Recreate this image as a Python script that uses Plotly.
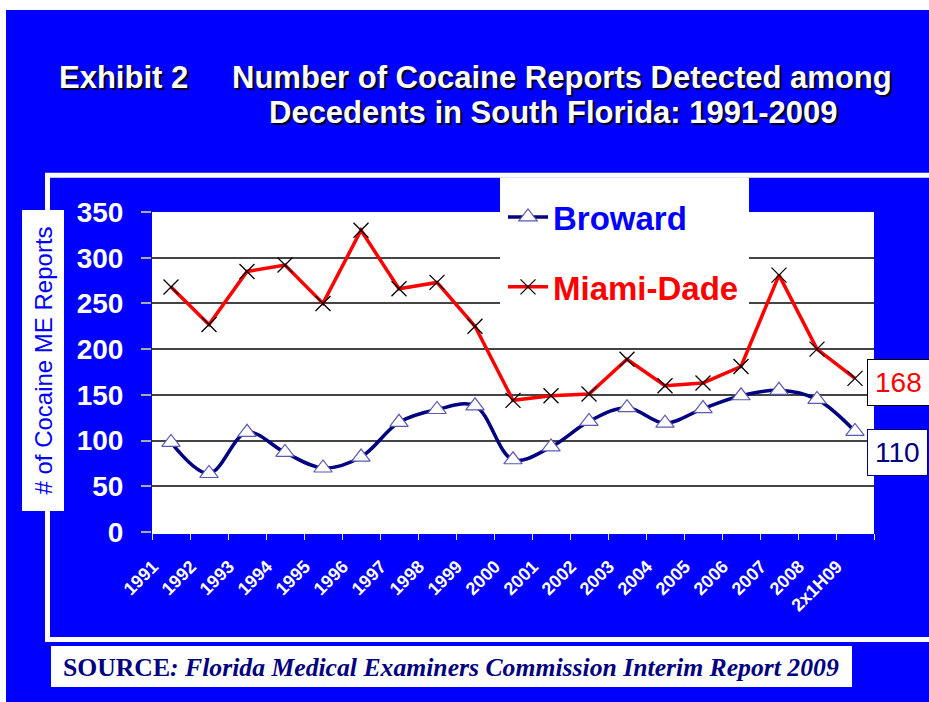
import plotly.graph_objects as go

W, H = 929, 702

years = ["1991", "1992", "1993", "1994", "1995", "1996", "1997", "1998", "1999", "2000",
         "2001", "2002", "2003", "2004", "2005", "2006", "2007", "2008", "2x1H09"]
broward = [98, 64, 109, 87, 70, 82, 120, 134, 138, 79, 93, 121, 136, 119, 135, 149, 155, 145, 110]
miami_dade = [268, 227, 285, 292, 250, 330, 266, 273, 225, 144, 149, 151, 189, 160, 163, 181, 281, 200, 168]
y_ticks = [0, 50, 100, 150, 200, 250, 300, 350]

BLUE = "#0000FF"
NAVY = "#000080"
SANS = "Liberation Sans, Arial, sans-serif"
SERIF = "Liberation Serif, Times New Roman, serif"


def px(x):
    return x / W


def py(y):
    return 1 - y / H


fig = go.Figure()

fig.add_trace(go.Scatter(
    x=years, y=broward, name="<span style='color:#0000FF'>Broward</span>",
    mode="lines+markers", legendgroup="b",
    line=dict(color=NAVY, width=3.5, shape="spline", smoothing=1.0),
    marker=dict(symbol="triangle-up", size=16, color="white",
                line=dict(color="#5a5ab4", width=1.2)),
))
fig.add_trace(go.Scatter(
    x=years, y=miami_dade, name="<span style='color:#FF0000'>Miami-Dade</span>",
    mode="lines+markers", legendgroup="m",
    line=dict(color="#FF0000", width=3.5),
    marker=dict(symbol="x-thin", size=15, color="black",
                line=dict(color="black", width=1.3)),
))

shapes = [
    # page blue background
    dict(type="rect", xref="paper", yref="paper", x0=px(6), x1=px(940), y0=py(10), y1=py(710),
         fillcolor=BLUE, line=dict(width=0), layer="below"),
    # white plot area
    dict(type="rect", xref="x domain", yref="y domain", x0=0, x1=1, y0=0, y1=1,
         fillcolor="white", line=dict(width=0), layer="below"),
    # white frame
    dict(type="rect", xref="paper", yref="paper", x0=px(47.5), x1=px(960), y0=py(175.3), y1=py(639.5),
         fillcolor="rgba(0,0,0,0)", line=dict(color="white", width=5), layer="below"),
    # legend white box
    dict(type="rect", xref="paper", yref="paper", x0=px(500), x1=px(749), y0=py(177.5), y1=py(338),
         fillcolor="white", line=dict(width=0), layer="above"),
    # source box
    dict(type="rect", xref="paper", yref="paper", x0=px(51), x1=px(852), y0=py(646), y1=py(687),
         fillcolor="white", line=dict(width=0), layer="above"),
]

shadow = "2px 2px 1px #000020"
annotations = [
    dict(text="Exhibit 2", x=px(57), y=py(77), xanchor="left", yanchor="middle",
         font=dict(family=SANS, size=31, color="white", weight="bold", shadow=shadow)),
    dict(text="Number of Cocaine Reports Detected among", x=px(230), y=py(77), xanchor="left",
         yanchor="middle", font=dict(family=SANS, size=31, color="white", weight="bold", shadow=shadow)),
    dict(text="Decedents in South Florida: 1991-2009", x=px(267), y=py(113), xanchor="left",
         yanchor="middle", font=dict(family=SANS, size=31, color="white", weight="bold", shadow=shadow)),
    # y-axis title box
    dict(text="# of Cocaine ME Reports", x=px(42.5), y=py(361), xanchor="center", yanchor="middle",
         textangle=-90, width=300, height=41, bgcolor="white", borderpad=0,
         font=dict(family=SANS, size=24, color=BLUE)),
    # end labels
    dict(text=str(miami_dade[-1]), x=px(867), y=py(382), xanchor="left", yanchor="middle",
         bgcolor="white", bordercolor="black", borderwidth=1, borderpad=7,
         font=dict(family=SANS, size=28, color="#FF0000")),
    dict(text=str(broward[-1]), x=px(867), y=py(452.5), xanchor="left", yanchor="middle",
         bgcolor="white", bordercolor=NAVY, borderwidth=1, borderpad=7,
         font=dict(family=SANS, size=28, color=NAVY)),
    # source
    dict(text="<b>SOURCE</b><b><i>: Florida Medical Examiners Commission Interim Report 2009</i></b>",
         x=px(61), y=py(667), xanchor="left", yanchor="middle",
         font=dict(family=SERIF, size=25.7, color=NAVY)),
]
for a in annotations:
    a.update(xref="paper", yref="paper", showarrow=False)

fig.update_layout(
    width=W, height=H,
    margin=dict(l=0, r=0, t=0, b=0, autoexpand=False),
    paper_bgcolor="white",
    plot_bgcolor="white",
    shapes=shapes,
    annotations=annotations,
    showlegend=True,
    legend=dict(x=px(503), y=py(189), xanchor="left", yanchor="top",
                bgcolor="rgba(0,0,0,0)", traceorder="grouped", tracegroupgap=24,
                itemwidth=40,
                font=dict(family=SANS, size=33, weight="bold")),
    xaxis=dict(
        domain=[px(152), px(874)],
        type="category",
        range=[-0.5, len(years) - 0.5],
        tickson="boundaries",
        ticks="outside", ticklen=6, tickcolor="#e0e0e0", tickwidth=1,
        tickangle=-45,
        tickfont=dict(family=SANS, size=18, color="white", weight="bold"),
        ticklabelstandoff=15, ticklabelshift=-18,
        showgrid=False, showline=True, linecolor="white", linewidth=2,
        zeroline=False,
    ),
    yaxis=dict(
        domain=[py(532), py(212)],
        range=[0, 350],
        tickvals=y_ticks,
        ticks="outside", ticklen=10, tickcolor="#aaaaaa", tickwidth=1.5,
        tickfont=dict(family=SANS, size=28, color="white", weight="bold"),
        ticklabelstandoff=12,
        showgrid=True, gridcolor="#444444", gridwidth=1.5,
        zeroline=False, showline=False,
    ),
)

fig.write_html("out.html")
